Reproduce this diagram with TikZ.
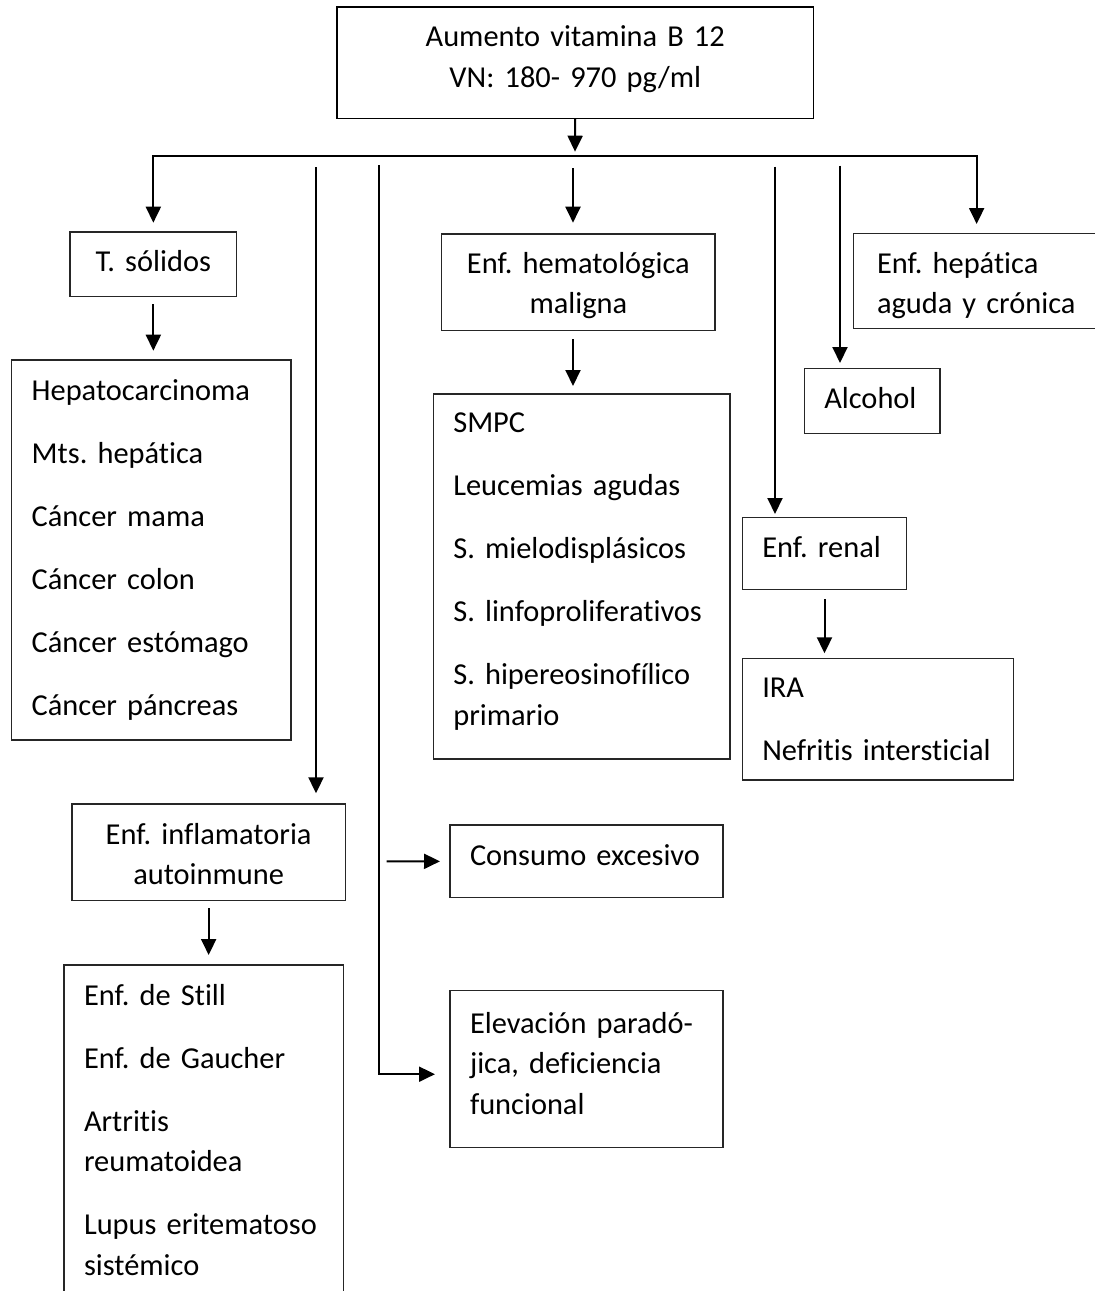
\documentclass[tikz,border=0pt]{standalone}
\usepackage{fontspec}
\setmainfont[Ligatures={NoCommon}]{Carlito}
\usetikzlibrary{arrows.meta}
\frenchspacing

\begin{document}
\begin{tikzpicture}[x=1pt,y=-1pt,
    caja/.style={draw=black!85,line width=1.3pt,anchor=north west,outer sep=0pt,inner ysep=0pt,inner xsep=20pt,align=left,
      font=\fontsize{30.4}{40.5}\selectfont},
    cajac/.style={caja,inner xsep=10pt,align=center},
    flecha/.style={-{Triangle[length=16pt,width=15pt]},line width=2pt}]
      \useasboundingbox (0,0) rectangle (1095,1291);
      \clip (0,0) rectangle (1095,1291);
      \node[cajac,line width=1.6pt,draw=black,text width=456.5pt,text height=39.7pt,text depth=71.6pt] (top) at (337,7)
        {Aumento vitamina B 12\\VN: 180- 970 pg/ml};
      \node[cajac,text width=146.7pt,text height=39.7pt,text depth=25pt] (tsol) at (70,232) {T. sólidos};
      \node[caja,text width=239.3pt,text height=40pt,text depth=340pt] (hepato) at (11.7,360)
        {Hepatocarcinoma\\[22.5pt]Mts. hepática\\[22.5pt]Cáncer mama\\[22.5pt]Cáncer colon\\[22.5pt]Cáncer estómago\\[22.5pt]Cáncer páncreas};
      \node[cajac,text width=253.3pt,text height=39.3pt,text depth=57.4pt] (hemat) at (441.7,234)
        {Enf. hematológica\\maligna};
      \node[caja,text width=256.7pt,text height=38.7pt,text depth=326.3pt] (smpc) at (433.3,394)
        {SMPC\\[22.5pt]Leucemias agudas\\[22.5pt]S. mielodisplásicos\\[22.5pt]S. linfoproliferativos\\[22.5pt]S. hipereosinofílico\\primario};
      \node[caja,inner xsep=23.7pt,text width=199.3pt,text height=40pt,text depth=55.2pt] (hepat) at (853.3,233.3)
        {Enf. hepática\\aguda y crónica};
      \node[caja,text width=95.7pt,text height=39.7pt,text depth=25.3pt] (alc) at (804.3,368.3) {Alcohol};
      \node[caja,text width=124.4pt,text height=40pt,text depth=32pt] (renal) at (742.3,517.3) {Enf. renal};
      \node[caja,text width=231.4pt,text height=39.4pt,text depth=82.3pt] (ira) at (742.3,658.3)
        {IRA\\[22.5pt]Nefritis intersticial};
      \node[cajac,text width=253.3pt,text height=40pt,text depth=56.7pt] (infl) at (72,804)
        {Enf. inflamatoria\\autoinmune};
      \node[caja,text width=239.5pt,text height=40pt,text depth=300pt] (still) at (64,965)
        {Enf. de Still\\[22.5pt]Enf. de Gaucher\\[22.5pt]Artritis\\reumatoidea\\[22.5pt]Lupus eritematoso\\sistémico};
      \node[caja,text width=233pt,text height=40pt,text depth=32.7pt] (cons) at (450,825) {Consumo excesivo};
      \node[caja,text width=233pt,text height=42.3pt,text depth=114.7pt] (elev) at (450,990.7)
        {Elevación paradó-\\jica, deficiencia\\funcional};
      \coordinate (bus) at (575,156);
      \coordinate (c1) at (316,167);
      \coordinate (c2) at (379,165);
      \coordinate (c3) at (386.7,861.3);
      \coordinate (c4) at (573,168.3);
      \coordinate (c5) at (775,166.7);
      \coordinate (c6) at (840,165.7);
      \draw[flecha,shorten >=4.3pt] (top.south) -- (bus);
      \draw[flecha,shorten >=9.3pt] (bus) -| (tsol.north);
      \draw[flecha,shorten >=9.3pt] (bus) -| (hepat.north);
      \draw[flecha,shorten <=7.3pt,shorten >=9.3pt] (tsol.south) -- (tsol.south |- hepato.north);
      \draw[flecha,shorten >=10.7pt] (c1) -- (c1 |- infl.north);
      \draw[flecha,shorten <=7.6pt,shorten >=10pt] (infl.south) -- (infl.south |- still.north);
      \draw[flecha,shorten >=15pt] (c2) |- ([yshift=-5pt]elev.west);
      \draw[flecha,shorten >=10pt] (c3) -- (cons.west);
      \draw[flecha,shorten >=11.3pt] (c4) -- (c4 |- hemat.north);
      \draw[flecha,shorten <=8.6pt,shorten >=8pt] (c4 |- hemat.south) -- (c4 |- smpc.north);
      \draw[flecha,shorten >=3.3pt] (c5) -- (c5 |- renal.north);
      \draw[flecha,shorten <=9.7pt,shorten >=5pt] (renal.south) -- (renal.south |- ira.north);
      \draw[flecha,shorten >=5.3pt] (c6) -- (c6 |- alc.north);
    \end{tikzpicture}
\end{document}
